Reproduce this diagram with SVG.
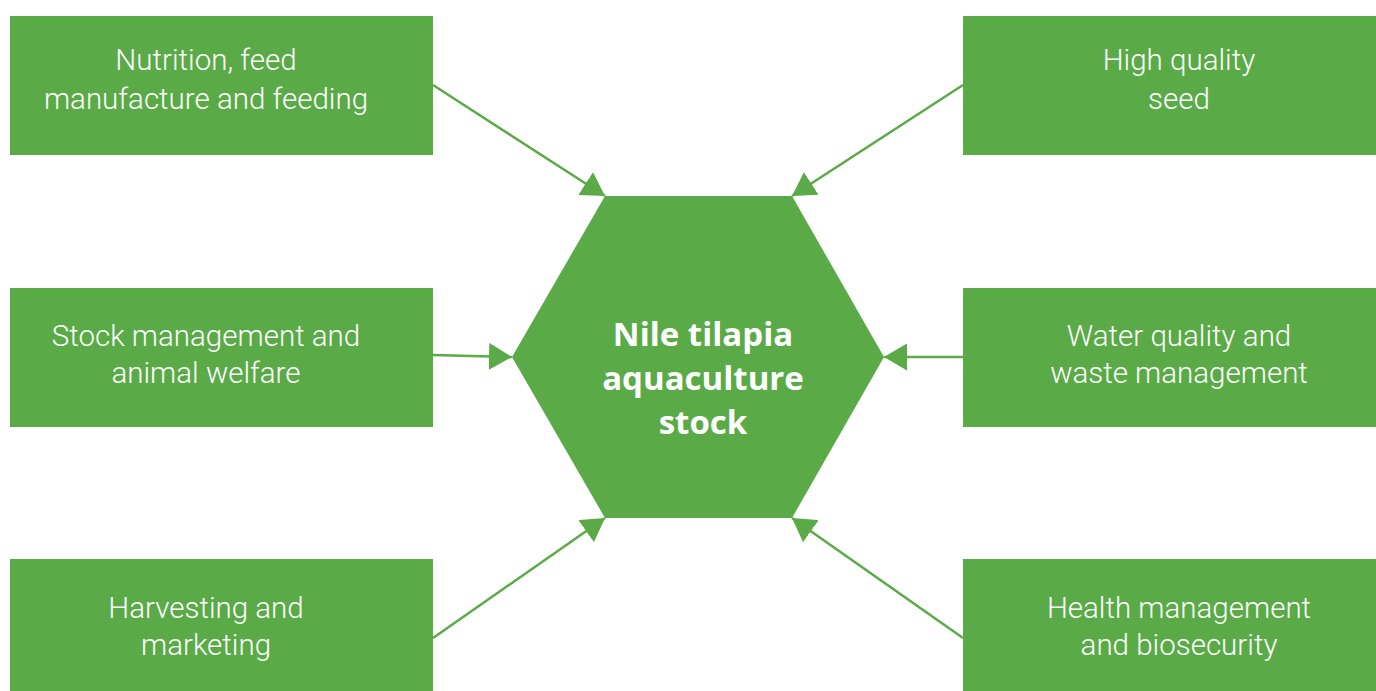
<svg xmlns="http://www.w3.org/2000/svg" width="1376" height="691" viewBox="0 0 1376 691">
  <style>
    .box { fill: #5aab47; }
    .hub { fill: #5aab47; }
    .label { fill: #ffffff; font-family: Roboto, "Open Sans", "Liberation Sans", sans-serif; font-weight: 300; font-size: 29.5px; text-anchor: middle; }
    .title { fill: #ffffff; font-family: "Open Sans", "Liberation Sans", sans-serif; font-weight: 700; font-size: 33px; text-anchor: middle; }
    .link { stroke: #5aab47; stroke-width: 2.5; fill: none; marker-end: url(#head); }
  </style>
  <defs>
    <marker id="head" viewBox="0 0 23 27" refX="23" refY="13.5" markerWidth="23" markerHeight="27" markerUnits="userSpaceOnUse" orient="auto">
      <path d="M0,0 L23,13.5 L0,27 Z" fill="#5aab47"/>
    </marker>
  </defs>

  <rect width="1376" height="691" fill="#ffffff"/>

  <g id="connectors">
    <line class="link" x1="433" y1="85" x2="605" y2="196"/>
    <line class="link" x1="963" y1="85" x2="792" y2="196"/>
    <line class="link" x1="433" y1="355" x2="512" y2="357"/>
    <line class="link" x1="963" y1="357" x2="884" y2="357"/>
    <line class="link" x1="433" y1="638" x2="605" y2="518"/>
    <line class="link" x1="963" y1="638" x2="792" y2="518"/>
  </g>

  <g id="hub">
    <polygon class="hub" points="605,196 792,196 884,357 792,518 605,518 512,357"/>
    <text class="title" x="703" y="346">Nile tilapia</text>
    <text class="title" x="703" y="390">aquaculture</text>
    <text class="title" x="703" y="434">stock</text>
  </g>

  <g id="nutrition">
    <rect class="box" x="10" y="16" width="423" height="139"/>
    <text class="label" x="206" y="70">Nutrition, feed</text>
    <text class="label" x="206" y="109">manufacture and feeding</text>
  </g>

  <g id="seed">
    <rect class="box" x="963" y="16" width="413" height="139"/>
    <text class="label" x="1179" y="70">High quality</text>
    <text class="label" x="1179" y="109">seed</text>
  </g>

  <g id="stock-management">
    <rect class="box" x="10" y="288" width="423" height="139"/>
    <text class="label" x="206" y="346">Stock management and</text>
    <text class="label" x="206" y="383">animal welfare</text>
  </g>

  <g id="water-quality">
    <rect class="box" x="963" y="288" width="413" height="139"/>
    <text class="label" x="1179" y="346">Water quality and</text>
    <text class="label" x="1179" y="383">waste management</text>
  </g>

  <g id="harvesting">
    <rect class="box" x="10" y="559" width="423" height="132"/>
    <text class="label" x="206" y="618">Harvesting and</text>
    <text class="label" x="206" y="655">marketing</text>
  </g>

  <g id="health">
    <rect class="box" x="963" y="559" width="413" height="132"/>
    <text class="label" x="1179" y="618">Health management</text>
    <text class="label" x="1179" y="655">and biosecurity</text>
  </g>
</svg>
